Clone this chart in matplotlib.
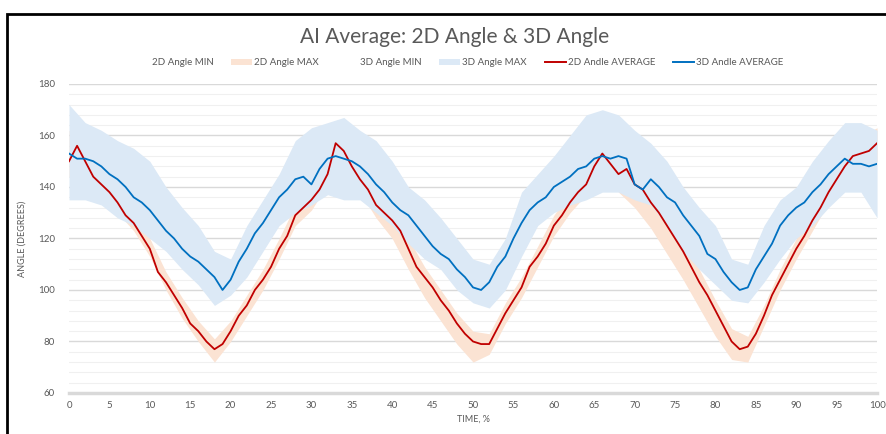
import matplotlib.pyplot as plt
from matplotlib.patches import Patch, Rectangle
from matplotlib.lines import Line2D

# time axis, % of cycle
t = list(range(0, 101))

# 2D angle average (red)
avg_2d = [150, 156, 150, 144, 141, 138, 134, 129, 126, 121,
          116, 107, 103, 98, 93, 87, 84, 80, 77, 79,
          84, 90, 94, 100, 104, 109, 116, 121, 129, 132,
          135, 139, 145, 157, 154, 148, 143, 139, 133, 130,
          127, 123, 116, 109, 105, 101, 96, 92, 87, 83,
          80, 79, 79, 85, 91, 96, 101, 109, 113, 118,
          125, 129, 134, 138, 141, 148, 153, 149, 145, 147,
          141, 139, 134, 130, 125, 120, 115, 109, 103, 98,
          92, 86, 80, 77, 78, 83, 90, 98, 104, 110,
          116, 121, 127, 132, 138, 143, 148, 152, 153, 154, 157]

# 3D angle average (blue)
avg_3d = [153, 151, 151, 150, 148, 145, 143, 140, 136, 134,
          131, 127, 123, 120, 116, 113, 111, 108, 105, 100,
          104, 111, 116, 122, 126, 131, 136, 139, 143, 144,
          141, 147, 151, 152, 151, 150, 148, 145, 141, 138,
          134, 131, 129, 125, 121, 117, 114, 112, 108, 105,
          101, 100, 103, 109, 113, 120, 126, 131, 134, 136,
          140, 142, 144, 147, 148, 151, 152, 151, 152, 151,
          141, 139, 143, 140, 136, 134, 129, 125, 121, 114,
          112, 107, 103, 100, 101, 108, 113, 118, 125, 129,
          132, 134, 138, 141, 145, 148, 151, 149, 149, 148, 149]

# min / max envelopes, every 2 %
t_band = list(range(0, 101, 2))
min_3d = [135, 135, 133, 128, 125, 120, 115, 108, 102, 94,
          98, 105, 115, 125, 130, 133, 137, 135, 135, 130,
          125, 118, 112, 108, 100, 95, 93, 100, 113, 125,
          130, 133, 135, 138, 138, 135, 133, 125, 115, 108,
          102, 96, 95, 103, 112, 120, 125, 132, 138, 138, 128]
max_3d = [172, 165, 162, 158, 155, 150, 140, 132, 125, 115,
          112, 125, 135, 145, 158, 163, 165, 167, 162, 158,
          150, 140, 135, 128, 120, 112, 110, 120, 138, 145,
          152, 160, 168, 170, 168, 162, 157, 150, 140, 132,
          125, 112, 110, 125, 135, 140, 150, 158, 165, 165, 162]
min_2d = [144, 146, 137, 130, 123, 113, 100, 89, 80, 72,
          80, 90, 100, 112, 125, 131, 141, 148, 138, 128,
          120, 108, 97, 88, 79, 72, 75, 87, 97, 109,
          121, 130, 137, 145, 138, 132, 124, 114, 104, 93,
          82, 73, 72, 86, 100, 112, 123, 134, 144, 145, 150]
max_2d = [162, 156, 145, 138, 130, 120, 107, 97, 88, 81,
          88, 98, 108, 120, 133, 139, 149, 160, 147, 137,
          131, 120, 109, 100, 91, 84, 83, 95, 105, 117,
          129, 138, 145, 165, 150, 146, 139, 130, 120, 108,
          96, 85, 82, 94, 108, 120, 131, 142, 152, 160, 163]

RED = '#C00000'
BLUE = '#0070C0'
BAND_3D = '#DCE9F6'
BAND_2D = '#FBE3D3'
GREY = '#595959'

plt.rcParams['font.family'] = ['Lato', 'DejaVu Sans']

fig = plt.figure(figsize=(8.87, 4.34), dpi=100)
ax = fig.add_axes([0.0778, 0.0945, 0.911, 0.712])

ax.fill_between(t_band, min_2d, max_2d, color=BAND_2D, lw=0)
ax.fill_between(t_band, min_3d, max_3d, color=BAND_3D, lw=0)
ax.plot(t, avg_2d, color=RED, lw=1.3)
ax.plot(t, avg_3d, color=BLUE, lw=1.3)

ax.set_xlim(0, 100)
ax.set_ylim(60, 180)
ax.set_xticks(range(0, 101, 5))
ax.set_yticks(range(60, 181, 20))
ax.set_yticks(range(60, 181, 4), minor=True)
ax.grid(axis='y', which='major', color='#D9D9D9', lw=1)
ax.grid(axis='y', which='minor', color='#F0F0F0', lw=0.8)
ax.set_axisbelow(True)
for s in ['top', 'right', 'left']:
    ax.spines[s].set_visible(False)
ax.spines['bottom'].set_color('#D9D9D9')
ax.spines['bottom'].set_linewidth(2.5)
ax.tick_params(which='both', length=0, labelsize=7, colors=GREY, pad=6)
ax.tick_params(axis='y', pad=10)
ax.set_xlabel('TIME, %', fontsize=6.5, color=GREY, labelpad=3)
ax.set_ylabel('ANGLE (DEGREES)', fontsize=6.5, color=GREY, labelpad=8)

fig.text(0.513, 0.915, 'AI Average: 2D Angle & 3D Angle', ha='center', va='center',
         fontsize=15, color=GREY)

handles = [Patch(facecolor='white', edgecolor='none'),
           Patch(facecolor=BAND_2D, edgecolor='none'),
           Patch(facecolor='white', edgecolor='none'),
           Patch(facecolor=BAND_3D, edgecolor='none'),
           Line2D([], [], color=RED, lw=1.4),
           Line2D([], [], color=BLUE, lw=1.4)]
labels = ['2D Angle MIN', '2D Angle MAX', '3D Angle MIN', '3D Angle MAX',
          '2D Andle AVERAGE', '3D Andle AVERAGE']
leg = fig.legend(handles, labels, loc='center', bbox_to_anchor=(0.514, 0.855), ncol=6,
                 frameon=False, fontsize=7, handlelength=2.2, handleheight=0.7,
                 columnspacing=1.8, handletextpad=0.2)
for txt in leg.get_texts():
    txt.set_color(GREY)

# outer chart frame
fig.patches.append(Rectangle((0.008, -0.05), 1.1, 1.017, transform=fig.transFigure,
                             fill=False, edgecolor='black', lw=2))

fig.savefig('out.png', dpi=100)
